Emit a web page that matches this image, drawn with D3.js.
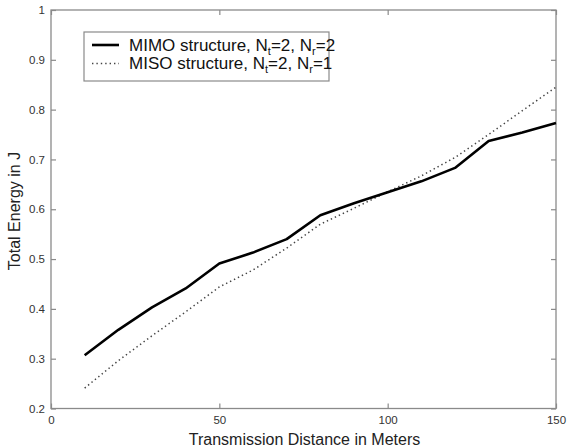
<!DOCTYPE html>
<html>
<head>
<meta charset="utf-8">
<script src="https://cdn.jsdelivr.net/npm/d3@7"></script>
<style>
  body { margin: 0; background: #fff; }
  text { font-family: "Liberation Sans", Arial, sans-serif; }
</style>
</head>
<body>
<svg id="chart" width="567" height="448"></svg>
<script>
// distances in meters
var distance = [10, 20, 30, 40, 50, 60, 70, 80, 90, 100, 110, 120, 130, 140, 150];

// total energy (J) for each structure
var mimoEnergy = [0.307, 0.358, 0.403, 0.441, 0.491, 0.513, 0.540, 0.588, 0.612, 0.634, 0.656, 0.683, 0.737, 0.754, 0.773];
var misoEnergy = [0.241, 0.296, 0.346, 0.394, 0.444, 0.478, 0.522, 0.570, 0.602, 0.635, 0.667, 0.704, 0.750, 0.798, 0.845];

var xTicks = [0, 50, 100, 150];
var yTicks = [0.2, 0.3, 0.4, 0.5, 0.6, 0.7, 0.8, 0.9, 1];

function drawChart() {
    var svg = d3.select("#chart");

    // plot box edges in pixels
    var pLeft = 51, pRight = 556, pTop = 10, pBottom = 408.5;

    var x = d3.scaleLinear().domain([0, 150]).range([pLeft, pRight]);
    var y = d3.scaleLinear().domain([0.2, 1]).range([pBottom, pTop]);

    var axisColor = "#8a8a8a";
    var textColor = "#333";

    // box
    svg.append("rect")
        .attr("x", pLeft).attr("y", pTop)
        .attr("width", pRight - pLeft).attr("height", pBottom - pTop)
        .attr("fill", "none")
        .attr("stroke", axisColor)
        .attr("stroke-width", 1.3);

    // inward ticks on all four sides (matlab style)
    svg.append("g").attr("transform", "translate(0," + pBottom + ")")
        .call(d3.axisBottom(x).tickValues(xTicks).tickSizeInner(-5).tickSizeOuter(0).tickPadding(7).tickFormat(d3.format("d")))
        .call(function(g) { g.select(".domain").remove(); });
    svg.append("g").attr("transform", "translate(0," + pTop + ")")
        .call(d3.axisTop(x).tickValues(xTicks).tickSizeInner(-5).tickSizeOuter(0).tickFormat(""))
        .call(function(g) { g.select(".domain").remove(); });
    svg.append("g").attr("transform", "translate(" + pLeft + ",0)")
        .call(d3.axisLeft(y).tickValues(yTicks).tickSizeInner(-5).tickSizeOuter(0).tickPadding(6).tickFormat(d3.format("~g")))
        .call(function(g) { g.select(".domain").remove(); });
    svg.append("g").attr("transform", "translate(" + pRight + ",0)")
        .call(d3.axisRight(y).tickValues(yTicks).tickSizeInner(-5).tickSizeOuter(0).tickFormat(""))
        .call(function(g) { g.select(".domain").remove(); });

    svg.selectAll(".tick line").attr("stroke", axisColor).attr("stroke-width", 1.2);
    svg.selectAll(".tick text")
        .attr("fill", textColor)
        .style("font-size", "11.5px")
        .style("font-family", "'Liberation Sans', Arial, sans-serif");

    // axis labels
    svg.append("text")
        .attr("x", (pLeft + pRight) / 2 + 1)
        .attr("y", 445)
        .attr("text-anchor", "middle")
        .attr("fill", "#222")
        .style("font-size", "16px")
        .text("Transmission Distance in Meters");

    svg.append("text")
        .attr("transform", "translate(20,211) rotate(-90)")
        .attr("text-anchor", "middle")
        .attr("fill", "#222")
        .style("font-size", "16px")
        .text("Total Energy in J");

    // lines
    var line = d3.line()
        .x(function(d) { return x(d[0]); })
        .y(function(d) { return y(d[1]); });

    svg.append("path")
        .datum(d3.zip(distance, misoEnergy))
        .attr("d", line)
        .attr("fill", "none")
        .attr("stroke", "#444")
        .attr("stroke-width", 1.5)
        .attr("stroke-dasharray", "1.4,3");

    svg.append("path")
        .datum(d3.zip(distance, mimoEnergy))
        .attr("d", line)
        .attr("fill", "none")
        .attr("stroke", "#000")
        .attr("stroke-width", 2.6)
        .attr("stroke-linejoin", "round");

    // legend
    var legend = svg.append("g");
    legend.append("rect")
        .attr("x", 84).attr("y", 32)
        .attr("width", 245).attr("height", 49)
        .attr("fill", "#fff")
        .attr("stroke", axisColor)
        .attr("stroke-width", 1.2);

    var entries = [
      { name: "MIMO structure, N", sub1: "t", mid: "=2, N", sub2: "r", end: "=2", dash: null, w: 2.6, c: "#000" },
      { name: "MISO structure, N", sub1: "t", mid: "=2, N", sub2: "r", end: "=1", dash: "1.4,3", w: 1.5, c: "#444" }
    ];

    entries.forEach(function(e, i) {
      var cy = 45 + i * 18.5;
      legend.append("line")
          .attr("x1", 92).attr("x2", 119)
          .attr("y1", cy).attr("y2", cy)
          .attr("stroke", e.c)
          .attr("stroke-width", e.w)
          .attr("stroke-dasharray", e.dash);
      var t = legend.append("text")
          .attr("x", 129).attr("y", cy + 5.5)
          .attr("fill", "#111")
          .style("font-size", "17px");
      t.append("tspan").text(e.name);
      t.append("tspan").attr("dy", 4).style("font-size", "11px").text(e.sub1);
      t.append("tspan").attr("dy", -4).text(e.mid);
      t.append("tspan").attr("dy", 4).style("font-size", "11px").text(e.sub2);
      t.append("tspan").attr("dy", -4).text(e.end);
    });
}

drawChart();
</script>
</body>
</html>
